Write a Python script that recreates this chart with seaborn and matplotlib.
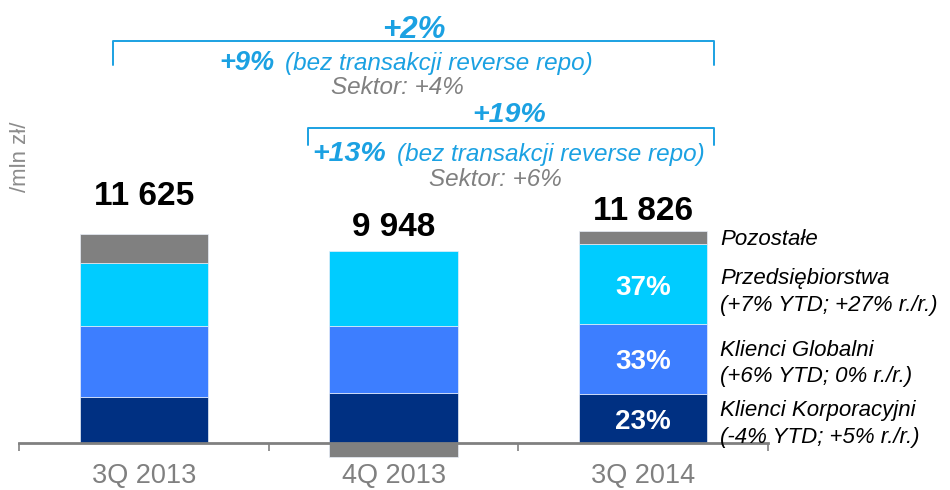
import numpy as np
import pandas as pd
import matplotlib
matplotlib.use("Agg")
import matplotlib.pyplot as plt
import seaborn as sns

# data (mln zł)
quarters = ["3Q 2013", "4Q 2013", "3Q 2014"]
korporacyjni = [2567, 2820, 2735]
globalni = [3962, 3720, 3920]
przedsiebiorstwa = [3484, 4140, 4410]
pozostale = [1612, -732, 761]
totals = [11625, 9948, 11826]
shares_3q2014 = ["23%", "33%", "37%"]

segment_colors = ["#003082", "#3d7eff", "#00ccff", "#808080"]
legend_labels = [
    "Klienci Korporacyjni\n(-4% YTD; +5% r./r.)",
    "Klienci Globalni\n(+6% YTD; 0% r./r.)",
    "Przedsiębiorstwa\n(+7% YTD; +27% r./r.)",
    "Pozostałe",
]
legend_y = [1080, 4450, 8430, 11347]
total_label_y = [13700, 11980, 12920]

sns.set_style("white")
plt.rcParams["font.family"] = ["Liberation Sans", "DejaVu Sans"]

ACCENT = "#1ba1e2"
GREY = "#808080"

fig = plt.figure(figsize=(9.5, 4.9), dpi=100)
ax = fig.add_axes([0.0205, 0.0582, 0.7876, 0.9418])

# stacked bars, negative parts hang below zero
segments = np.array([korporacyjni, globalni, przedsiebiorstwa, pozostale], dtype=float)
pos_base = np.zeros(len(quarters))
neg_base = np.zeros(len(quarters))
mids = []
for seg, color in zip(segments, segment_colors):
    bottom = np.where(seg >= 0, pos_base, neg_base)
    sns.barplot(x=quarters, y=seg, order=quarters, bottom=bottom, color=color,
                width=0.515, saturation=1, edgecolor="#e8eef8", linewidth=0.5, ax=ax)
    mids.append(bottom + seg / 2)
    pos_base = pos_base + np.where(seg >= 0, seg, 0)
    neg_base = neg_base + np.where(seg < 0, seg, 0)

ax.set_xlim(-0.5, 2.5)
ax.set_ylim(-1000, 24646)

# axis styling
for side in ["top", "right", "left"]:
    ax.spines[side].set_visible(False)
ax.spines["bottom"].set_position(("data", 0))
ax.spines["bottom"].set_color(GREY)
ax.spines["bottom"].set_linewidth(2)
ax.spines["bottom"].set_zorder(1)
ax.set_yticks([])
ax.set_xticks([0, 1, 2])
ax.set_xticklabels(quarters, fontsize=19.5, color=GREY)
ax.set_xticks([-0.5, 0.5, 1.5, 2.5], minor=True)
ax.tick_params(axis="x", which="major", bottom=False, length=0, pad=14)
ax.tick_params(axis="x", which="minor", bottom=True, length=5.5, width=1.2,
               color=GREY, direction="out")
ax.set_xlabel("")
ax.set_ylabel("")

# totals above bars
for i, (tot, ty) in enumerate(zip(totals, total_label_y)):
    ax.text(i, ty, f"{tot:,}".replace(",", " "), ha="center", va="center",
            fontsize=24, fontweight="bold", color="black")

# shares inside the last bar
for k, lab in enumerate(shares_3q2014):
    ax.annotate(lab, (2, mids[k][2]), xytext=(0, -2.5), textcoords="offset points",
                ha="center", va="center", fontsize=20, fontweight="bold", color="white")

# segment descriptions on the right
for lab, ly in zip(legend_labels, legend_y):
    ax.text(2.309, ly, lab, ha="left", va="center", fontsize=16,
            style="italic", color="black", linespacing=1.35, clip_on=False)

# growth brackets
ax.plot([-0.124, -0.124, 2.286, 2.286], [21016, 22367, 22367, 21016],
        color=ACCENT, lw=1.4, clip_on=False)
ax.plot([0.658, 0.658, 2.286, 2.286], [16588, 17516, 17516, 16588],
        color=ACCENT, lw=1.4, clip_on=False)

ax.text(1.081, 23000, "+2%", ha="center", va="center", fontsize=22.5,
        fontweight="bold", style="italic", color=ACCENT)
ax.text(0.300, 21130, "+9%", ha="left", va="center", fontsize=19.5,
        fontweight="bold", style="italic", color=ACCENT)
ax.text(0.565, 21130, "(bez transakcji reverse repo)", ha="left", va="center",
        fontsize=17.5, style="italic", color=ACCENT)
ax.text(1.015, 19790, "Sektor: +4%", ha="center", va="center", fontsize=17.5,
        style="italic", color=GREY)

ax.text(1.463, 18260, "+19%", ha="center", va="center", fontsize=20.5,
        fontweight="bold", style="italic", color=ACCENT)
ax.text(0.673, 16060, "+13%", ha="left", va="center", fontsize=20.5,
        fontweight="bold", style="italic", color=ACCENT)
ax.text(1.012, 16060, "(bez transakcji reverse repo)", ha="left", va="center",
        fontsize=17.5, style="italic", color=ACCENT)
ax.text(1.407, 14680, "Sektor: +6%", ha="center", va="center", fontsize=17.5,
        style="italic", color=GREY)

fig.text(20 / 950, 1 - 157 / 490, "/mln zł/", rotation=90, ha="center", va="center",
         fontsize=16, color="#8c8c8c")

fig.savefig("out.png", dpi=100)
plt.close(fig)
